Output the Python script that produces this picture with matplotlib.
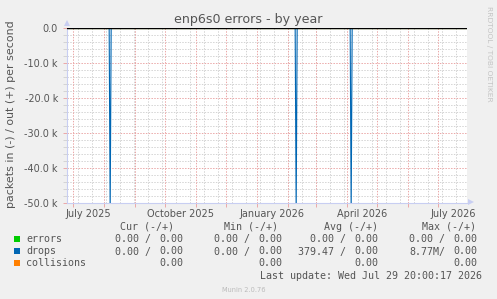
import matplotlib
matplotlib.use("Agg")
import matplotlib.pyplot as plt
import numpy as np
import pandas as pd
from datetime import datetime, timedelta
from matplotlib.patches import Rectangle

# ---------------- data ----------------
title = "enp6s0 errors - by year"
ylabel = "packets in (-) / out (+) per second"
series_names = ["errors", "drops", "collisions"]
series_colors = ["#00CC00", "#0066B3", "#FF8000"]

day_start = "2025-06-25"
day_end = "2026-07-29"
# drops (in, shown negative): zero except for three spikes
drop_spike_dates = ["2025-08-07", "2026-02-09", "2026-04-05"]
drop_spike_values = [52500, 52500, 52500]

y_ticks = [0, -10000, -20000, -30000, -40000, -50000]
y_tick_labels = ["0.0", "-10.0 k", "-20.0 k", "-30.0 k", "-40.0 k", "-50.0 k"]
x_label_dates = ["2025-07-16", "2025-10-16", "2026-01-16", "2026-04-16", "2026-07-16"]
x_labels = ["July 2025", "October 2025", "January 2026", "April 2026", "July 2026"]

# legend values: (in part, out part); None = single value
legend_cur = [("0.00 /", "0.00"), ("0.00 /", "0.00"), (None, "0.00")]
legend_min = [("0.00 /", "0.00"), ("0.00 /", "0.00"), (None, "0.00")]
legend_avg = [("0.00 /", "0.00"), ("379.47 /", "0.00"), (None, "0.00")]
legend_max = [("0.00 /", "0.00"), ("8.77M/", "0.00"), (None, "0.00")]
last_update = "Last update: Wed Jul 29 20:00:17 2026"

# ---------------- figure ----------------
W, H = 497, 299
fig = plt.figure(figsize=(W / 100, H / 100), dpi=100, facecolor="#F0F0F0")

def fx(px):
    return px / W

def fy(py):
    return (H - py) / H

L, R, T, B = 67, 467, 28, 203
ax = fig.add_axes([fx(L), fy(B), fx(R - L), (B - T) / H])
ax.set_facecolor("white")

end = datetime(2026, 7, 29, 20, 0, 17)
start = end - timedelta(days=400)
ax.set_xlim(start, end)
ax.set_ylim(-50000, 0)

days = pd.date_range(day_start, day_end, freq="D")
errors_in = np.zeros(len(days))
collisions = np.zeros(len(days))
drops_in = np.zeros(len(days))
for d, v in zip(drop_spike_dates, drop_spike_values):
    drops_in[days.get_loc(pd.Timestamp(d))] = v

grid_minor = "#D4D4D4"
grid_major = "#EBA8A8"
dot = (0, (1.4, 1.4))

# minor vertical grid every 14 days
anchor = pd.Timestamp("2026-03-29")
for k in range(-30, 10):
    t = anchor + pd.Timedelta(days=14 * k)
    if start <= t <= end:
        ax.axvline(t, color=grid_minor, lw=0.72, ls=dot, zorder=0.5)
# minor horizontal every 2000
for yv in range(-48000, 0, 2000):
    if yv % 10000:
        ax.axhline(yv, color=grid_minor, lw=0.72, ls=dot, zorder=0.5)
# major vertical at month starts
for t in pd.date_range("2025-07-01", "2026-07-01", freq="MS"):
    ax.axvline(t, color=grid_major, lw=0.72, ls=dot, zorder=0.6)
for yv in y_ticks[1:]:
    ax.axhline(yv, color=grid_major, lw=0.72, ls=dot, zorder=0.6)

ax.plot(days, -errors_in, color=series_colors[0], lw=0.8, zorder=2)
ax.plot(days, -drops_in, color=series_colors[1], lw=0.8, zorder=3)
ax.plot(days, collisions, color=series_colors[2], lw=0.8, zorder=2)
ax.axhline(0, color="black", lw=1.0, zorder=4)

axis_col = "#C8CEF2"
for s in ["top", "right"]:
    ax.spines[s].set_visible(False)
for s in ["left", "bottom"]:
    ax.spines[s].set_color(axis_col)
    ax.spines[s].set_linewidth(0.8)

text_col = "#555555"
ax.set_yticks(y_ticks)
ax.set_yticklabels(y_tick_labels)
ax.set_yticks(list(range(-48000, 0, 2000)), minor=True)
ax.tick_params(axis="y", which="major", length=3, color=grid_major, pad=3.5,
               labelsize=6.9, labelcolor=text_col, width=0.7)
ax.tick_params(axis="y", which="minor", length=3, color=grid_minor, width=0.7)
ax.set_xticks(pd.to_datetime(x_label_dates))
ax.set_xticklabels(x_labels)
ax.set_xticks(list(pd.date_range("2025-07-01", "2026-07-01", freq="MS")), minor=True)
ax.tick_params(axis="x", which="major", length=0, pad=4, labelsize=7, labelcolor=text_col)
ax.tick_params(axis="x", which="minor", length=3, color=grid_major, width=0.7)

# arrows
ax.plot([0], [1 + 4.5 / 175], marker="^", ms=5, color=axis_col, transform=ax.transAxes,
        clip_on=False, zorder=5, markeredgewidth=0)
ax.plot([1 + 3.5 / 400], [1 / 175], marker=">", ms=5, color=axis_col,
        transform=ax.transAxes, clip_on=False, zorder=5, markeredgewidth=0)

fig.text(fx(248.5), fy(19), title, ha="center", va="center", fontsize=9.1, color=text_col)
fig.text(fx(11), fy(114), ylabel, ha="center", va="center", rotation=90,
         fontsize=7.9, color=text_col)
fig.text(fx(488.5), fy(53.5), "RRDTOOL / TOBI OETIKER", ha="center", va="center",
         rotation=270, fontsize=5.4, color="#C4C4C4")

mono = dict(family="DejaVu Sans Mono", fontsize=7.2, color=text_col)
hdr_base = 229.5
headers = ["Cur (-/+)", "Min (-/+)", "Avg (-/+)", "Max (-/+)"]
hdr_right = [174.5, 278.5, 378.5, 476.5]
for h, xr in zip(headers, hdr_right):
    fig.text(fx(xr), fy(hdr_base), h, ha="right", va="baseline", **mono)

row_base = [242.3, 254.5, 266.5]
col_right = [183.5, 282.5, 378.5, 477.5]
for i, name in enumerate(series_names):
    yb = row_base[i]
    fig.add_artist(Rectangle((fx(14), fy(yb - 0.5)), 6 / W, 6 / H,
                             transform=fig.transFigure, color=series_colors[i], lw=0))
    fig.text(fx(26), fy(yb), name, ha="left", va="baseline", **mono)
    for vals, xr in zip([legend_cur, legend_min, legend_avg, legend_max], col_right):
        left, right = vals[i]
        fig.text(fx(xr), fy(yb), right, ha="right", va="baseline", **mono)
        if left is not None:
            fig.text(fx(xr - 32.3), fy(yb), left, ha="right", va="baseline", **mono)

fig.text(fx(482.5), fy(279), last_update, ha="right", va="baseline", **mono)
fig.text(fx(244), fy(291.5), "Munin 2.0.76", ha="center", va="baseline",
         fontsize=4.8, color="#BBBBBB")

fig.savefig("out.png", dpi=100, facecolor=fig.get_facecolor())
